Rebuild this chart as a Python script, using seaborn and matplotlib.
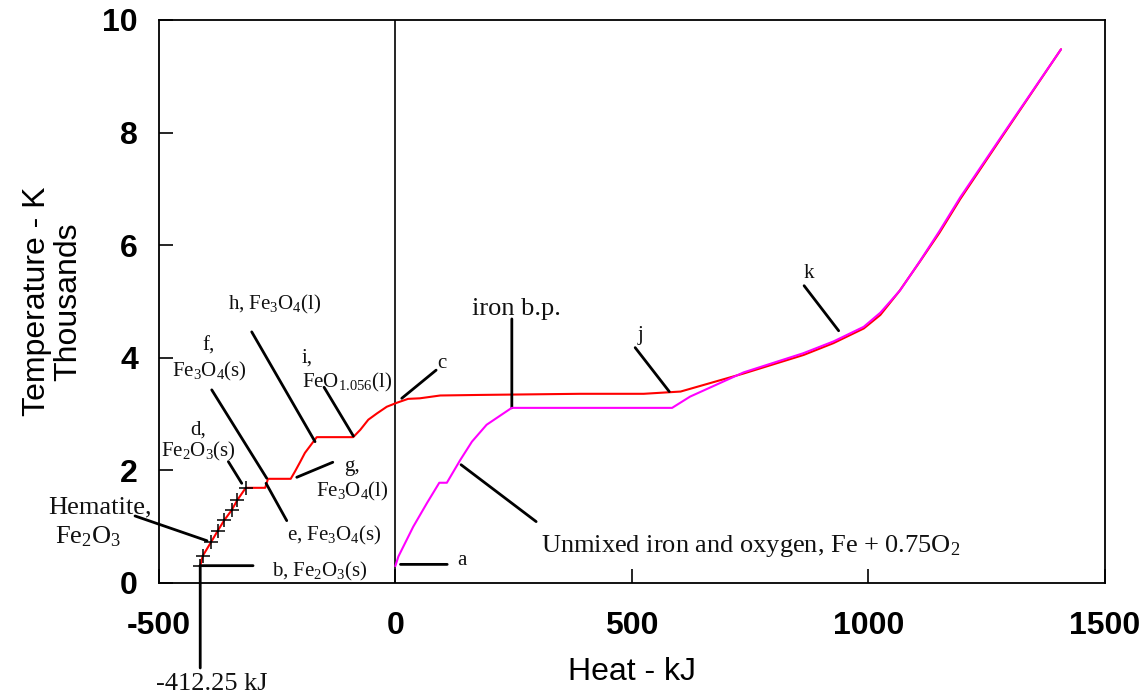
import matplotlib
matplotlib.use("Agg")
import matplotlib.pyplot as plt
import seaborn as sns

# Hematite heating points (kJ, thousands of K)
hem_heat = [-412.25, -407, -389, -375, -361, -346, -334, -316]
hem_temp = [0.298, 0.48, 0.73, 0.93, 1.12, 1.29, 1.47, 1.69]

# Rest of the oxide path after the hematite section
oxide_heat = [-275, -269, -221, -212, -201, -191, -166, -89, -74, -57, -39, -18,
              3, 27, 52, 95, 179, 391, 525, 603, 736, 863, 926, 990, 1025,
              1065, 1108, 1150, 1194, 1285, 1407]
oxide_temp = [1.69, 1.85, 1.85, 1.98, 2.15, 2.31, 2.59, 2.59, 2.72, 2.90, 3.01, 3.13,
              3.20, 3.27, 3.28, 3.33, 3.34, 3.36, 3.36, 3.40, 3.72, 4.05, 4.26, 4.52, 4.76,
              5.18, 5.70, 6.22, 6.82, 7.96, 9.48]

# Unmixed iron and oxygen path
unmix_heat = [0, 6.6, 38, 67, 93, 109, 137, 162, 193, 246, 585, 623, 736, 862,
              926, 990, 1025, 1067, 1109, 1150, 1194, 1285, 1407]
unmix_temp = [0.298, 0.47, 1.0, 1.42, 1.78, 1.78, 2.18, 2.51, 2.81, 3.11, 3.11, 3.31,
              3.74, 4.08, 4.29, 4.55, 4.80, 5.20, 5.72, 6.25, 6.85, 7.98, 9.48]

x_ticks = [-500, 0, 500, 1000, 1500]
y_ticks = [0, 2, 4, 6, 8, 10]

# Leader lines: (x0, y0, x1, y1)
leaders = [
    (-550, 1.19, -398, 0.75),        # hematite
    (-412.7, 0.307, -300.6, 0.307),  # b
    (-412.25, 0.298, -412.25, -1.51),  # -412.25 kJ
    (-352.8, 2.155, -324.5, 1.77),   # d
    (-387.9, 3.43, -271.7, 1.86),    # f
    (-273.1, 1.77, -229.4, 1.107),   # e
    (-208.2, 1.877, -132.1, 2.144),  # g
    (-303.4, 4.46, -169.6, 2.51),    # h
    (-150.5, 3.476, -88.6, 2.61),    # i
    (13.7, 3.28, 86.3, 3.78),        # c
    (11.0, 0.33, 109.7, 0.33),       # a
    (246.3, 4.69, 246.3, 3.11),      # iron b.p.
    (139, 2.10, 297.7, 1.09),        # unmixed
    (507, 4.18, 579, 3.40),          # j
    (864, 5.28, 937, 4.48),          # k
]

# Labels: (text, x, y, horizontal alignment, size)
small, large = 15, 19
labels = [
    ("Hematite,", -734, 1.243, "left", large),
    (r"Fe$_2$O$_3$", -719, 0.71, "left", large),
    (r"b, Fe$_2$O$_3$(s)", -260.4, 0.11, "left", small),
    ("-412.25 kJ", -387, -1.897, "center", large),
    ("d,", -416.9, 2.63, "center", small),
    (r"Fe$_2$O$_3$(s)", -416.9, 2.24, "center", small),
    ("f,", -393.7, 4.12, "center", small),
    (r"Fe$_3$O$_4$(s)", -393.7, 3.66, "center", small),
    (r"e, Fe$_3$O$_4$(s)", -228.8, 0.76, "left", small),
    ("g,", -91.3, 1.99, "center", small),
    (r"Fe$_3$O$_4$(l)", -91.3, 1.53, "center", small),
    (r"h, Fe$_3$O$_4$(l)", -255.2, 4.85, "center", small),
    ("i,", -197, 3.91, "left", small),
    (r"FeO$_{1.056}$(l)", -197, 3.48, "left", small),
    ("c", 98.9, 3.82, "center", small),
    ("a", 131.3, 0.32, "left", small),
    ("iron b.p.", 255.5, 4.76, "center", large),
    (r"Unmixed iron and oxygen, Fe + 0.75O$_2$", 308.2, 0.556, "left", large),
    ("j", 519, 4.32, "center", small),
    ("k", 873.3, 5.42, "center", small),
]

sns.set_theme(style="ticks")
plt.rcParams["font.family"] = ["Liberation Sans", "DejaVu Sans"]
plt.rcParams["mathtext.fontset"] = "custom"
plt.rcParams["mathtext.rm"] = "Liberation Serif"
plt.rcParams["mathtext.it"] = "Liberation Serif:italic"
plt.rcParams["mathtext.bf"] = "Liberation Serif:bold"

fig = plt.figure(figsize=(11.45, 6.94), dpi=100)
ax = fig.add_axes([0.1386, 0.16, 0.8265, 0.8112])

ax.axvline(0, color="black", lw=1.2, zorder=1)

sns.lineplot(x=hem_heat + oxide_heat, y=hem_temp + oxide_temp, sort=False,
             estimator=None, color="#ff0000", lw=1.5, ax=ax, zorder=3)
sns.lineplot(x=unmix_heat, y=unmix_temp, sort=False, estimator=None,
             color="#ff00ff", lw=1.5, ax=ax, zorder=4)
sns.scatterplot(x=hem_heat, y=hem_temp, marker="+", s=110, color="black",
                linewidth=1.1, ax=ax, zorder=5)

for x0, y0, x1, y1 in leaders:
    ax.annotate("", xy=(x1, y1), xytext=(x0, y0), annotation_clip=False,
                arrowprops=dict(arrowstyle="-", lw=2, color="black",
                                shrinkA=0, shrinkB=0))

for text, x, y, ha, size in labels:
    ax.text(x, y, text, ha=ha, va="baseline", fontsize=size,
            family="Liberation Serif", color="#111111", clip_on=False)

ax.set_xlim(-500, 1500)
ax.set_ylim(0, 10)
ax.set_xticks(x_ticks)
ax.set_yticks(y_ticks)
ax.set_xticklabels([str(v) for v in x_ticks], fontsize=23, fontweight="bold")
ax.set_yticklabels([str(v) for v in y_ticks], fontsize=23, fontweight="bold")
ax.tick_params(axis="x", direction="in", length=10, width=1.2, pad=20, colors="black")
ax.tick_params(axis="y", direction="in", length=10, width=1.2, pad=15, colors="black")

for side in ["left", "right", "top", "bottom"]:
    ax.spines[side].set_visible(True)
    ax.spines[side].set_color("black")
    ax.spines[side].set_linewidth(1.3)

ax.set_xlabel("Heat - kJ", fontsize=23, labelpad=12, color="black")
ax.set_ylabel("Temperature - K\nThousands", fontsize=23, labelpad=14,
              color="black", linespacing=1.05)
ax.legend_ = None

fig.savefig("out.png", dpi=100)
